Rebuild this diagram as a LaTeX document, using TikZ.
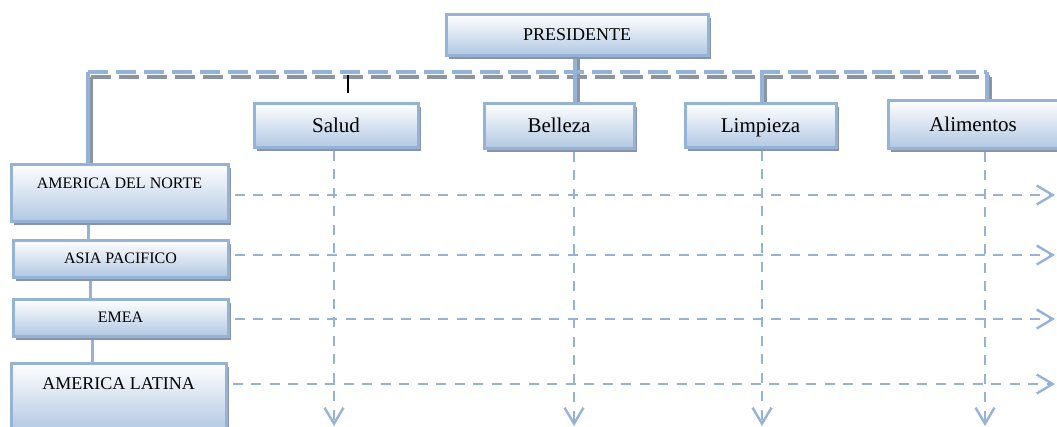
\documentclass[tikz,border=0pt]{standalone}
\usepackage{fontspec}
\setmainfont{Liberation Serif}
\usetikzlibrary{shadows,arrows.meta}
\definecolor{bord}{RGB}{149,179,215}
\definecolor{fillb}{RGB}{178,200,227}
\definecolor{shd}{RGB}{138,148,164}
\pgfdeclarelayer{background}
\pgfsetlayers{background,main}
\tikzset{
  box/.style={draw=bord, line width=3pt, top color=white, bottom color=fillb,
    drop shadow={shadow xshift=3pt, shadow yshift=-4pt, fill=shd, opacity=1},
    inner sep=0pt, text depth=0pt},
  catbox/.style={box, font=\fontsize{21}{25}\selectfont, text height=14pt},
  presbox/.style={box, font=\fontsize{18}{22}\selectfont, text height=12pt},
  regbox/.style={box, font=\fontsize{16}{19}\selectfont, text height=10.6pt},
  conn/.style={draw=bord, line width=3.5pt},
  connshd/.style={draw=shd, line width=3.5pt},
  topdash/.style={draw=bord, line width=3.5pt, dash pattern=on 20pt off 8pt},
  topdashshd/.style={draw=shd, line width=3.5pt, dash pattern=on 20pt off 8pt},
  chain/.style={draw=bord, line width=3pt},
  darr/.style={draw=bord, line width=2.6pt, dash pattern=on 10pt off 8.5pt,
    -{Straight Barb[length=16pt,width=19pt,line width=2.4pt]}},
  tick/.style={draw=black, line width=1.5pt}
}
\begin{document}
\begin{tikzpicture}[x=1pt,y=-1pt]
\useasboundingbox (0,0) rectangle (1057,426);
% boxes
\node[presbox, minimum width=262pt, minimum height=41pt] (pres) at (577,34.5) {PRESIDENTE};
\node[catbox, minimum width=164pt, minimum height=44pt] (salud) at (336,125) {Salud};
\node[catbox, minimum width=150pt, minimum height=45pt] (belleza) at (559,125.5) {Belleza};
\node[catbox, minimum width=151pt, minimum height=44pt] (limpieza) at (760.5,125) {Limpieza};
\node[catbox, minimum width=170pt, minimum height=48pt] (alimentos) at (973,124) {Alimentos};
\node[regbox, minimum width=217pt, minimum height=57pt, text height=11pt, text depth=19pt] (norte) at (119.5,192.5) {AMERICA DEL NORTE};
\node[regbox, minimum width=215pt, minimum height=37pt] (asia) at (120.5,258.5) {ASIA PACIFICO};
\node[regbox, minimum width=215pt, minimum height=37pt] (emea) at (120.5,317.5) {EMEA};
\node[box, font=\fontsize{18}{22}\selectfont, minimum width=215pt, minimum height=68pt, text height=12pt, text depth=28pt] (latina) at (118.5,397) {AMERICA LATINA};
% coordinates
\coordinate (tl) at (88,72);
\coordinate (tr) at (987,72);
\coordinate (bx) at (575,0);
\coordinate (lx) at (762,0);
\coordinate (tk1) at (348,75);
\coordinate (tk2) at (348,93);
\coordinate (c1) at (88,0);
\coordinate (c2) at (90,0);
\coordinate (c3) at (92,0);
\coordinate (h1) at (1055,195);
\coordinate (h2) at (1055,255);
\coordinate (h3) at (1055,319);
\coordinate (h4) at (1055,384);
\coordinate (d1) at (334,426);
\coordinate (d2) at (574,426);
\coordinate (d3) at (762,426);
\coordinate (d4) at (985,426);
\begin{pgfonlayer}{background}
  % shadows of top connector lines
  \draw[topdashshd] ([shift={(3,5)}]tl) -- ([shift={(3,5)}]tr);
  \draw[connshd] ([shift={(3,5)}]tl) -- ([xshift=3pt]norte.north -| tl);
  \draw[connshd] ([shift={(3,5)}]tr) -- ([xshift=3pt]alimentos.north -| tr);
  \draw[connshd] ([shift={(3,5)}]lx |- tl) -- ([xshift=3pt]limpieza.north -| lx);
  \draw[connshd] ([xshift=3pt]pres.south -| bx) -- ([xshift=3pt]belleza.north -| bx);
  % top connector lines
  \draw[topdash] (tl) -- (tr);
  \draw[conn] (tl) -- (norte.north -| tl);
  \draw[conn] (tr) -- (alimentos.north -| tr);
  \draw[conn] (lx |- tl) -- (limpieza.north -| lx);
  \draw[conn] (pres.south -| bx) -- (belleza.north -| bx);
  % region chain
  \draw[chain] (norte.south -| c1) -- (asia.north -| c1);
  \draw[chain] (asia.south -| c2) -- (emea.north -| c2);
  \draw[chain] (emea.south -| c3) -- (latina.north -| c3);
\end{pgfonlayer}
\draw[tick] (tk1) -- (tk2);
% horizontal dashed arrows
\draw[darr, shorten <=5pt] (norte.east |- h1) -- (h1);
\draw[darr, shorten <=5pt] (asia.east |- h2) -- (h2);
\draw[darr, shorten <=5pt] (emea.east |- h3) -- (h3);
\draw[darr, shorten <=5pt] (latina.east |- h4) -- (h4);
% vertical dashed arrows
\draw[darr, shorten <=2pt] (salud.south -| d1) -- (d1);
\draw[darr, shorten <=2pt] (belleza.south -| d2) -- (d2);
\draw[darr, shorten <=2pt] (limpieza.south -| d3) -- (d3);
\draw[darr, shorten <=2pt] (alimentos.south -| d4) -- (d4);
\end{tikzpicture}
\end{document}
